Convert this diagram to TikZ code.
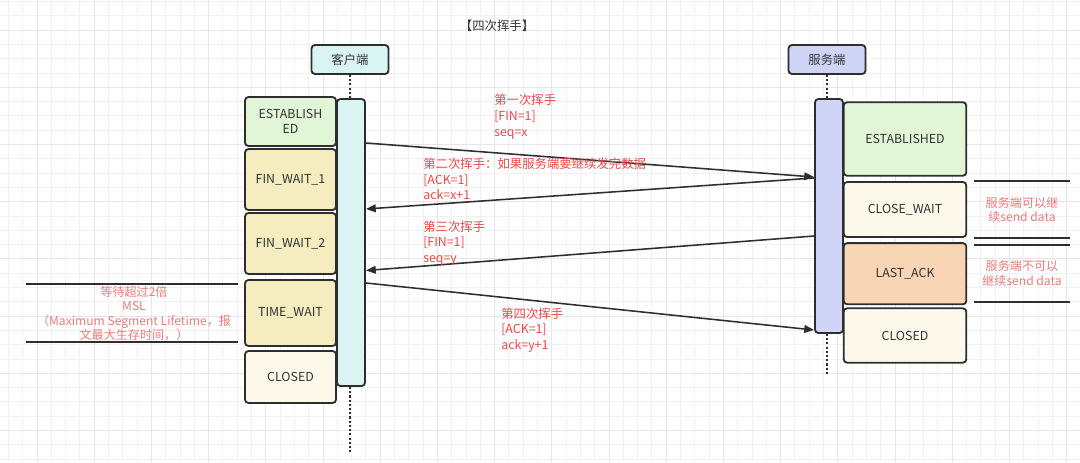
\documentclass[tikz,border=0pt]{standalone}
\usepackage{fontspec}
\setmainfont{Noto Sans CJK SC}
\usepackage{xcolor}
\usepackage{tikz}
\usetikzlibrary{arrows.meta}
\definecolor{cli}{HTML}{DAF4F4}
\definecolor{srv}{HTML}{D0D4F6}
\definecolor{estab}{HTML}{E1F5D7}
\definecolor{wait}{HTML}{F5ECC0}
\definecolor{closed}{HTML}{FDF9EA}
\definecolor{lastack}{HTML}{F8D5B4}
\definecolor{edge}{HTML}{2E2E2E}
\definecolor{note}{HTML}{F04848}
\definecolor{softnote}{HTML}{F27A7A}
\definecolor{gridmin}{HTML}{F1F1F1}
\definecolor{gridmaj}{HTML}{E6E6E6}

\begin{document}
\begin{tikzpicture}[x=0.025cm, y=-0.025cm,
  box/.style={draw=edge, line width=1.3pt, rounded corners=2.5pt, align=center,
              inner sep=0pt, text=black!80, font=\fontsize{8.8}{11.2}\selectfont},
  head/.style={box, minimum width=1.925cm, minimum height=0.725cm},
  bar/.style={box, minimum width=0.7cm},
  cstate/.style={box, minimum width=2.275cm},
  sstate/.style={box, minimum width=3.065cm},
  msg/.style={->, draw=edge, line width=1.1pt},
  life/.style={draw=edge, line width=1.4pt, dash pattern=on 1.5pt off 1.5pt},
  sideline/.style={draw=edge, line width=1.2pt},
  lbl/.style={text=note, align=left, inner sep=0pt, font=\fontsize{8.8}{11.2}\selectfont},
  hint/.style={text=softnote, align=center, inner sep=0pt, font=\fontsize{8.6}{10.4}\selectfont},
  >={Triangle[length=7pt,width=5.5pt]}
]
  \fill[white] (0,0) rectangle (1080,462);
  \useasboundingbox (0,0) rectangle (1080,462);
  \foreach \k in {0,...,75} \draw[gridmin, line width=0.6pt] (8.4+\k*14.3,0) -- (8.4+\k*14.3,462);
  \foreach \k in {0,...,32} \draw[gridmin, line width=0.6pt] (0,1.5+\k*14.3) -- (1080,1.5+\k*14.3);
  \foreach \k in {2,6,...,74} \draw[gridmaj, line width=0.6pt] (8.4+\k*14.3,0) -- (8.4+\k*14.3,462);
  \foreach \k in {2,6,...,30} \draw[gridmaj, line width=0.6pt] (0,1.5+\k*14.3) -- (1080,1.5+\k*14.3);

  \node[text=black!80, font=\fontsize{8.8}{11}\selectfont] (title) at (497,26) {【四次挥手】};
  \node[head, fill=cli] (chead) at (350,59.5) {客户端};
  \node[head, fill=srv] (shead) at (827,59.5) {服务端};
  \coordinate (cend) at (350,452);
  \coordinate (send) at (827,375);

  \node[bar, fill=cli, minimum height=7.175cm] (cbar) at (351,242.5) {};
  \node[bar, fill=srv, minimum height=5.85cm]  (sbar) at (829,216) {};

  \node[cstate, fill=estab,  minimum height=1.225cm] (c1) at (290.5,121.5) {ESTABLISH\\ED};
  \node[cstate, fill=wait,   minimum height=1.525cm] (c2) at (290.5,179.5) {FIN\_WAIT\_1};
  \node[cstate, fill=wait,   minimum height=1.525cm] (c3) at (290.5,243.5) {FIN\_WAIT\_2};
  \node[cstate, fill=wait,   minimum height=1.65cm]  (c4) at (290.5,313)   {TIME\_WAIT};
  \node[cstate, fill=closed, minimum height=1.3cm]   (c5) at (290.5,377)   {CLOSED};

  \node[sstate, fill=estab,   minimum height=1.84cm]  (s1) at (905,139)   {ESTABLISHED};
  \node[sstate, fill=closed,  minimum height=1.375cm] (s2) at (905,209.5) {CLOSE\_WAIT};
  \node[sstate, fill=lastack, minimum height=1.53cm]  (s3) at (905,273.7) {LAST\_ACK};
  \node[sstate, fill=closed,  minimum height=1.36cm]  (s4) at (905,335.5) {CLOSED};

  \draw[life] (chead.south) -- (chead.south |- cbar.north);
  \draw[life] (cend |- cbar.south) -- (cend);
  \draw[life] (shead.south) -- (shead.south |- sbar.north);
  \draw[life] (send |- sbar.south) -- (send);

  \draw[msg] (cbar.east |- 0,143) -- (sbar.west |- 0,177);
  \draw[msg] (sbar.west |- 0,178) -- (cbar.east |- 0,209);
  \draw[msg] (sbar.west |- 0,236) -- (cbar.east |- 0,270.5);
  \draw[msg] (cbar.east |- 0,283) -- (sbar.west |- 0,330);

  \node[lbl, anchor=west] (m1) at (494,116.7) {第一次挥手\\{[FIN=1]}\\seq=x};
  \node[lbl, anchor=west] (m2) at (423,179)   {第二次挥手：如果服务端要继续发完数据\\{[ACK=1]}\\ack=x+1};
  \node[lbl, anchor=west] (m3) at (423,243)   {第三次挥手\\{[FIN=1]}\\seq=y};
  \node[lbl, anchor=west] (m4) at (501,330)   {第四次挥手\\{[ACK=1]}\\ack=y+1};

  \node[hint] (h1) at (1022,210)   {服务端可以继\\续send data};
  \node[hint] (h2) at (1022,273.5) {服务端不可以\\继续send data};
  \node[hint] (h3) at (134,313.5)  {等待超过2倍\\MSL\\（Maximum Segment Lifetime，报\\文最大生存时间，）};

  \draw[sideline] (26,284.3) -- (237.6,284.3);
  \draw[sideline] (26,341.7) -- (237.6,341.7);
  \draw[sideline] (974,181.3) -- (1070,181.3);
  \draw[sideline] (974,237.7) -- (1070,237.7);
  \draw[sideline] (974,245)   -- (1070,245);
  \draw[sideline] (974,301.7) -- (1070,301.7);
\end{tikzpicture}
\end{document}
